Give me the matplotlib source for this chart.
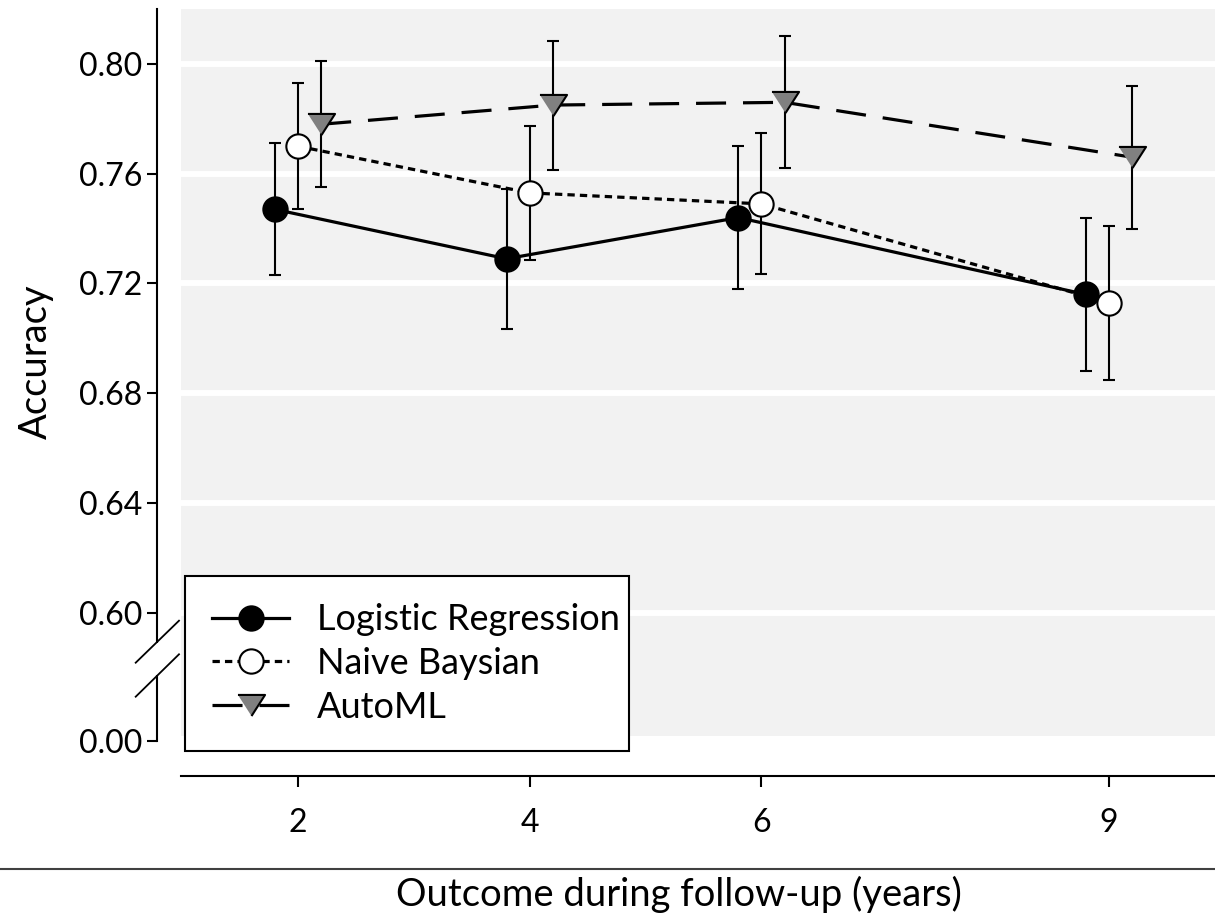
import numpy as np
import matplotlib
matplotlib.use('Agg')
import matplotlib.pyplot as plt
from matplotlib.patches import Rectangle
from matplotlib.lines import Line2D

# ==================== 数据 ====================
years = [2, 4, 6, 9]
year_labels = ['2', '4', '6', '9']

lr_acc = [0.747, 0.729, 0.744, 0.716]
lr_err = [0.024, 0.0255, 0.026, 0.028]

nb_acc = [0.770, 0.753, 0.749, 0.713]
nb_err = [0.023, 0.0245, 0.0257, 0.028]

aml_acc = [0.778, 0.785, 0.786, 0.766]
aml_err = [0.023, 0.0235, 0.024, 0.026]

y_ticks = [0.00, 0.60, 0.64, 0.68, 0.72, 0.76, 0.80]

# ==================== 断轴刻度（0.60 以下压缩） ====================
BREAK = 0.6
K = 0.0467 / 0.6


def fwd(y):
    y = np.asarray(y, dtype=float)
    return np.where(y >= BREAK, y, BREAK - (BREAK - y) * K)


def inv(s):
    s = np.asarray(s, dtype=float)
    return np.where(s >= BREAK, s, BREAK - (BREAK - s) / K)


# ==================== 绘图 ====================
plt.rcParams['font.family'] = ['Lato', 'DejaVu Sans']

W, H = 1215, 916
fig = plt.figure(figsize=(W / 100, H / 100), dpi=100)
ax = fig.add_axes([181 / W, 1 - 741 / H, (W - 181) / W, (741 - 9) / H])
ax.set_facecolor('white')
ax.add_patch(Rectangle((0, 5 / 732), 1, 1 - 5 / 732, transform=ax.transAxes,
                       facecolor='#f2f2f2', edgecolor='none', zorder=0))

ax.set_yscale('function', functions=(fwd, inv))
ax.set_ylim(0.0, 0.82)
ax.set_xlim(0.99, 9.915)

off = 0.2
x = np.array(years, dtype=float)

eb = dict(fmt='none', ecolor='black', elinewidth=1.5, capsize=4.3, capthick=1.5, zorder=3)
ax.errorbar(x - off, lr_acc, yerr=lr_err, **eb)
ax.errorbar(x, nb_acc, yerr=nb_err, **eb)
ax.errorbar(x + off, aml_acc, yerr=aml_err, **eb)

tri = [(-1, 0.78), (1, 0.78), (0, -0.78)]
h1, = ax.plot(x - off, lr_acc, color='black', lw=2.3, marker='o', ms=17.5,
              mfc='black', mec='black', mew=1.5, zorder=4, label='Logistic Regression')
h2, = ax.plot(x, nb_acc, color='black', lw=2.3, dashes=(2.3, 1.6), marker='o', ms=17.5,
              mfc='white', mec='black', mew=1.5, zorder=4, label='Naive Baysian')
h3, = ax.plot(x + off, aml_acc, color='black', lw=2.3, dashes=(9.4, 5.3), marker=tri, ms=19.5,
              mfc='#808080', mec='black', mew=1.5, zorder=4, label='AutoML')

# 网格与坐标轴
ax.set_yticks(y_ticks)
ax.set_yticklabels(['%.2f' % v for v in y_ticks])
ax.yaxis.grid(True, color='white', lw=4.3)
ax.xaxis.grid(False)
ax.set_axisbelow(True)
ax.set_xticks(years)
ax.set_xticklabels(year_labels)

for s in ['top', 'right']:
    ax.spines[s].set_visible(False)
ax.spines['left'].set_position(('outward', 17.3))
ax.spines['bottom'].set_position(('outward', 25))
ax.spines['left'].set_linewidth(1.5)
ax.spines['bottom'].set_linewidth(1.5)
ax.tick_params(axis='y', direction='out', length=7, width=1.5, pad=3.5, labelsize=23)
ax.tick_params(axis='x', direction='out', length=8, width=1.5, pad=15, labelsize=23)

# 断轴标记
def fl(x0, y0, x1, y1, **kw):
    fig.add_artist(Line2D([x0 / W, x1 / W], [1 - y0 / H, 1 - y1 / H],
                          transform=fig.transFigure, **kw))

fl(157, 643, 157, 675, color='white', lw=4, solid_capstyle='butt')
fl(135.7, 662.7, 179, 620.7, color='black', lw=1.3)
fl(135.7, 696.7, 179, 654.3, color='black', lw=1.3)

# 底部横线
fl(0, 869, W, 869, color='#404040', lw=1.5)

# 标签
fig.text(679 / W, 1 - 894 / H, 'Outcome during follow-up (years)', fontsize=27.5,
         ha='center', va='center')
fig.text(36 / W, 1 - 362 / H, 'Accuracy', fontsize=27.5, rotation=90,
         ha='center', va='center')

leg = ax.legend(handles=[h1, h2, h3], loc='lower left', mode='expand',
                bbox_to_anchor=(185 / W, 1 - 751 / H, 444 / W, 178 / H),
                bbox_transform=fig.transFigure,
                borderaxespad=0, fontsize=26, fancybox=False, framealpha=1,
                edgecolor='black', handlelength=2.13, handletextpad=0.78,
                borderpad=0.75, labelspacing=0.3, numpoints=1)
leg.get_frame().set_linewidth(1.5)
leg.set_zorder(6)

fig.savefig('out.png', dpi=100)
